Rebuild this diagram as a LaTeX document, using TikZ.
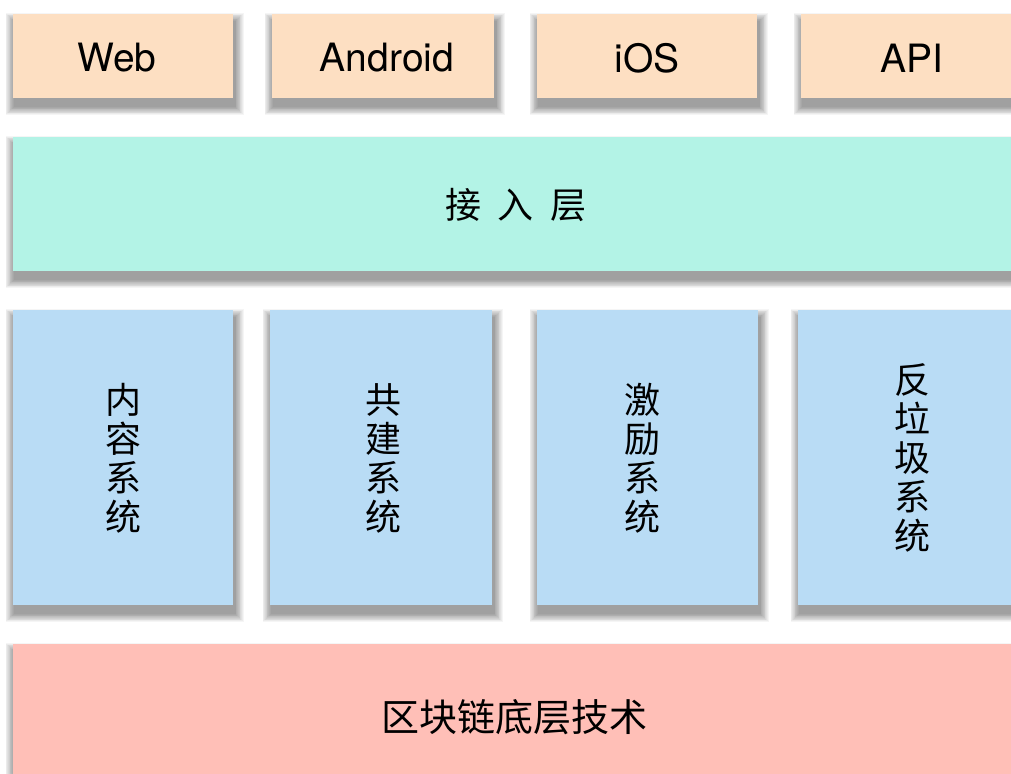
\documentclass[tikz,border=0pt]{standalone}
\usepackage{fontspec}
\setmainfont{TeX Gyre Heros}
\newfontfamily\cjk{Noto Sans CJK SC}
\definecolor{peach}{HTML}{FDDFC2}
\definecolor{mint}{HTML}{B3F3E6}
\definecolor{sky}{HTML}{B9DCF5}
\definecolor{rose}{HTML}{FFBFB7}
\tikzset{
  shadowlayer/.style={fill=black, fill opacity=0.04, draw=none},
  lbl/.style={font=\fontsize{39}{42}\selectfont, text=black},
  cjklbl/.style={font=\cjk\fontsize{36}{39}\selectfont, text=black, align=center},
}
% \layerrect{colour}{x1}{y1}{x2}{y2}
\newcommand\layerrect[5]{%
  \foreach \e in {9,8.2,...,0.2}{%
    \fill[shadowlayer] ({#2+1.5-\e},{#3+8-\e}) rectangle ({#4+1.5+\e},{#5+8+\e});
  }%
  \fill[#1] (#2,#3) rectangle (#4,#5);
}
\begin{document}
\begin{tikzpicture}[x=1pt,y=-1pt]
\useasboundingbox (0,0) rectangle (1011,773);
\fill[white] (0,0) rectangle (1011,773);
% top row
\layerrect{peach}{13}{14}{233}{98}
\layerrect{peach}{272}{14}{494}{98}
\layerrect{peach}{537}{14}{757}{98}
\layerrect{peach}{801}{14}{1030}{98}
% access layer
\layerrect{mint}{13}{137}{1030}{271}
% middle columns
\layerrect{sky}{13}{310}{233}{605}
\layerrect{sky}{270}{310}{492}{605}
\layerrect{sky}{537}{310}{758}{605}
\layerrect{sky}{798}{310}{1030}{605}
% bottom
\layerrect{rose}{13}{644}{1030}{800}
% labels
\node[lbl] (web) at (117,58) {Web};
\node[lbl] (android) at (387,58) {Android};
\node[lbl] (ios) at (647,58) {iOS};
\node[lbl] (api) at (912,58) {API};
\node[cjklbl] (access) at (516,205) {接\hspace{0.45em}入\hspace{0.45em}层};
\node[cjklbl] (content) at (123,458) {内\\容\\系\\统};
\node[cjklbl] (cobuild) at (383,458) {共\\建\\系\\统};
\node[cjklbl] (incent) at (642,458) {激\\励\\系\\统};
\node[cjklbl] (spam) at (912,458) {反\\垃\\圾\\系\\统};
\node[cjklbl, font=\cjk\fontsize{38}{40}\selectfont] (chain) at (514,717) {区块链底层技术};
\end{tikzpicture}
\end{document}
